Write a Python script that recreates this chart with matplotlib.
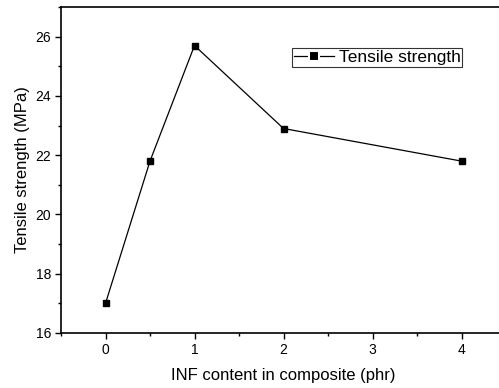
import matplotlib
matplotlib.use('Agg')
import matplotlib.pyplot as plt
from matplotlib.ticker import MultipleLocator

# data
inf_content = [0, 0.5, 1, 2, 4]
tensile_strength = [17.0, 21.8, 25.7, 22.9, 21.8]

plt.rcParams['font.family'] = ['Liberation Sans', 'DejaVu Sans']

fig = plt.figure(figsize=(4.99, 3.88), dpi=100)
# axes runs past the right edge of the figure, as in the reference
ax_l, ax_r, ax_t, ax_b = 61, 506, 7, 333
ax = fig.add_axes([ax_l / 499, 1 - ax_b / 388, (ax_r - ax_l) / 499, (ax_b - ax_t) / 388])

ax.plot(inf_content, tensile_strength, color='black', lw=0.9,
        marker='s', markersize=5, markerfacecolor='black', markeredgecolor='black',
        label='Tensile strength')

ax.set_xlim(-0.5, 4.5)
ax.set_ylim(16, 27)
ax.xaxis.set_major_locator(MultipleLocator(1))
ax.xaxis.set_minor_locator(MultipleLocator(0.5))
ax.yaxis.set_major_locator(MultipleLocator(2))
ax.yaxis.set_minor_locator(MultipleLocator(1))
ax.tick_params(which='major', direction='out', length=4, width=1, labelsize=10, pad=3)
ax.tick_params(which='minor', direction='out', length=2, width=1)
for s in ax.spines.values():
    s.set_linewidth(1.2)

ax.set_xlabel('INF content in composite (phr)', fontsize=12, labelpad=8)
ax.set_ylabel('Tensile strength (MPa)', fontsize=12, labelpad=4)

leg = ax.legend(loc='upper left',
                bbox_to_anchor=((292 - ax_l) / (ax_r - ax_l), 1 - (48 - ax_t) / (ax_b - ax_t)),
                bbox_transform=ax.transAxes, fontsize=12.5, frameon=True, fancybox=False,
                borderpad=0.1, handlelength=2.3, handletextpad=0.3, borderaxespad=0)
leg.get_frame().set_edgecolor('black')
leg.get_frame().set_linewidth(0.8)
# little gaps either side of the marker in the legend handle
h = leg.legend_handles[0]
h.set_markeredgecolor('white')
h.set_markeredgewidth(1.5)
h.set_markersize(7.5)

fig.savefig('out.png', dpi=100)
